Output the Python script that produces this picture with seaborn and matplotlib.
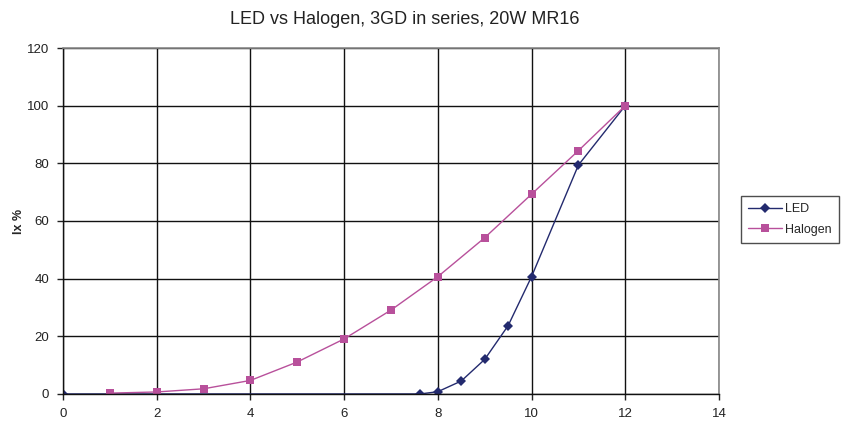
import matplotlib
matplotlib.use("Agg")
import matplotlib.pyplot as plt
import seaborn as sns
import pandas as pd

led_x = [0, 7.62, 8, 8.5, 9, 9.5, 10, 11, 12]
led_y = [0, 0, 0.8, 4.5, 12, 23.7, 40.7, 79.4, 100]
hal_x = [1, 2, 3, 4, 5, 6, 7, 8, 9, 10, 11, 12]
hal_y = [0.3, 0.7, 1.8, 4.7, 11.1, 19.1, 29.1, 40.7, 54.2, 69.3, 84.4, 100]
x_ticks = [0, 2, 4, 6, 8, 10, 12, 14]
y_ticks = [0, 20, 40, 60, 80, 100, 120]

sns.set_style("white")
plt.rcParams['font.family'] = ['Liberation Sans', 'DejaVu Sans']

df = pd.concat([
    pd.DataFrame({"x": led_x, "y": led_y, "series": "LED"}),
    pd.DataFrame({"x": hal_x, "y": hal_y, "series": "Halogen"}),
])

fig = plt.figure(figsize=(8.42, 4.34), dpi=100)
ax = fig.add_axes([0.0748, 0.0922, 0.7791, 0.7972])

palette = {"LED": "#232a6e", "Halogen": "#b8509b"}
sns.lineplot(data=df, x="x", y="y", hue="series", style="series",
             markers={"LED": "D", "Halogen": "s"}, dashes=False,
             palette=palette, ax=ax, linewidth=1.0, markersize=5.5,
             markeredgewidth=0, estimator=None, sort=False)

ax.set_xlim(0, 14)
ax.set_ylim(0, 120)
ax.set_xticks(x_ticks)
ax.set_yticks(y_ticks)
ax.tick_params(axis='both', labelsize=9.5, length=4, width=1, direction='out',
               colors='#222222', bottom=True, left=True, pad=6)
ax.grid(True, color='#111111', linewidth=1.0)
ax.set_axisbelow(True)
for s in ['top', 'right']:
    ax.spines[s].set_color('#888888')
    ax.spines[s].set_linewidth(1.2)
for s in ['left', 'bottom']:
    ax.spines[s].set_color('#111111')
    ax.spines[s].set_linewidth(1.0)
ax.set_xlabel("")
ax.set_ylabel("lx %", fontsize=9, fontweight='bold', labelpad=1)

fig.suptitle("LED vs Halogen, 3GD in series, 20W MR16", x=0.481, y=0.975,
             fontsize=13, color='#222222')

leg = ax.legend(loc='upper left', bbox_to_anchor=(1.024, 0.59), frameon=True,
                fancybox=False, edgecolor='#222222', fontsize=9,
                handlelength=2.7, handletextpad=0.3, borderpad=0.55,
                labelspacing=0.7, title=None)
leg.get_frame().set_linewidth(1.0)

fig.savefig("out.png", dpi=100)
